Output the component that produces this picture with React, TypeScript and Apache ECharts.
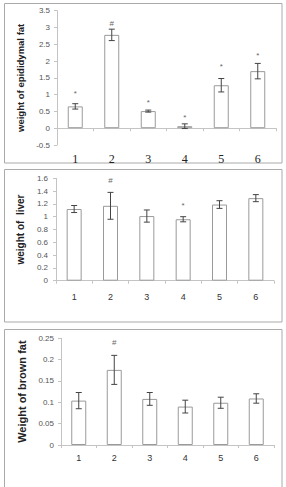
import React, { useEffect, useRef } from "react";
import * as echarts from "echarts";

const categories = ["1", "2", "3", "4", "5", "6"];

const epiMean = [0.65, 2.78, 0.51, 0.06, 1.28, 1.7];
const epiErr = [0.08, 0.17, 0.03, 0.07, 0.2, 0.23];
const epiMark = ["*", "#", "*", "*", "*", "*"];
const epiMarkY = [1.04, 3.11, 0.77, 0.33, 1.83, 2.16];

const liverMean = [1.12, 1.17, 1.01, 0.96, 1.19, 1.29];
const liverErr = [0.055, 0.21, 0.095, 0.04, 0.06, 0.055];
const liverMark = ["", "#", "", "*", "", ""];
const liverMarkY = [0, 1.56, 0, 1.17, 0, 0];

const brownMean = [0.104, 0.176, 0.108, 0.09, 0.099, 0.109];
const brownErr = [0.019, 0.034, 0.015, 0.015, 0.013, 0.011];
const brownMark = ["", "#", "", "", "", ""];
const brownMarkY = [0, 0.24, 0, 0, 0, 0];

const yTicks1 = { min: -0.5, max: 3.5, interval: 0.5 };
const yTicks2 = { min: 0, max: 1.6, interval: 0.2 };
const yTicks3 = { min: 0, max: 0.25, interval: 0.05 };

const AXIS_COLOR = "#c4c4c4";
const LABEL_COLOR = "#555";

function errorSeries(idx: number, mean: number[], err: number[]) {
  return {
    type: "custom",
    xAxisIndex: idx,
    yAxisIndex: idx,
    z: 5,
    data: mean.map((m, i) => [i, m, err[i]]),
    encode: { x: 0, y: 1 },
    renderItem: (params: any, api: any) => {
      const x = api.value(0);
      const m = api.value(1);
      const e = api.value(2);
      const top = api.coord([x, m + e]);
      const bot = api.coord([x, m - e]);
      const w = 3;
      const st = { stroke: "#444", lineWidth: 1 };
      return {
        type: "group",
        children: [
          { type: "line", shape: { x1: top[0], y1: top[1], x2: bot[0], y2: bot[1] }, style: st },
          { type: "line", shape: { x1: top[0] - w, y1: top[1], x2: top[0] + w, y2: top[1] }, style: st },
          { type: "line", shape: { x1: bot[0] - w, y1: bot[1], x2: bot[0] + w, y2: bot[1] }, style: st },
        ],
      };
    },
  };
}

function markSeries(idx: number, marks: string[], ys: number[]) {
  const items: { i: number; y: number; t: string }[] = [];
  marks.forEach((t, i) => {
    if (t) items.push({ i, y: ys[i], t });
  });
  return {
    type: "custom",
    xAxisIndex: idx,
    yAxisIndex: idx,
    z: 6,
    data: items.map((d) => [d.i, d.y]),
    encode: { x: 0, y: 1 },
    renderItem: (params: any, api: any) => {
      const p = api.coord([api.value(0), api.value(1)]);
      const t = items[params.dataIndex].t;
      return {
        type: "text",
        x: p[0],
        y: p[1],
        style: {
          text: t,
          fill: "#666",
          fontSize: 8,
          fontFamily: "Liberation Sans",
          align: "center",
          verticalAlign: "middle",
        },
      };
    },
  };
}

function barSeries(idx: number, mean: number[]) {
  return {
    type: "bar",
    xAxisIndex: idx,
    yAxisIndex: idx,
    barWidth: 15,
    data: mean,
    itemStyle: { color: "#fff", borderColor: "#9a9a9a", borderWidth: 1 },
  };
}

function xAxis(idx: number, fontSize: number, margin: number, serif: boolean) {
  return {
    type: "category",
    gridIndex: idx,
    data: categories,
    axisLine: { onZero: true, lineStyle: { color: AXIS_COLOR } },
    axisTick: { show: true, length: 3, lineStyle: { color: AXIS_COLOR } },
    axisLabel: {
      color: serif ? "#222" : "#333",
      fontSize,
      margin,
      fontFamily: serif ? "Liberation Serif" : "Liberation Sans",
    },
    splitLine: { show: false },
  };
}

function yAxis(idx: number, ticks: any, name: string, nameSize: number, nameGap: number, margin: number) {
  return {
    type: "value",
    gridIndex: idx,
    min: ticks.min,
    max: ticks.max,
    interval: ticks.interval,
    name,
    nameLocation: "middle",
    nameGap,
    nameTextStyle: { fontSize: nameSize, fontWeight: "bold", color: "#222", fontFamily: "Liberation Sans" },
    axisLine: { show: true, lineStyle: { color: AXIS_COLOR } },
    axisTick: { show: true, length: 3, lineStyle: { color: AXIS_COLOR } },
    axisLabel: { color: LABEL_COLOR, fontSize: 8, margin, fontFamily: "Liberation Sans" },
    splitLine: { show: false },
  };
}

export default function App() {
  const ref = useRef<HTMLDivElement>(null);
  useEffect(() => {
    if (!ref.current) return;
    const chart = echarts.init(ref.current, undefined, { renderer: "svg" });
    chart.setOption({
      animation: false,
      backgroundColor: "#fff",
      grid: [
        { left: 57, right: 10, top: 10.7, height: 134.3 },
        { left: 56, right: 12, top: 178.3, height: 102.4 },
        { left: 61, right: 12, top: 338.3, height: 106.7 },
      ],
      xAxis: [xAxis(0, 12, 8, true), xAxis(1, 9, 12, false), xAxis(2, 9, 8, false)],
      yAxis: [
        yAxis(0, yTicks1, "weight of epididymal fat", 9.5, 27, 7),
        yAxis(1, yTicks2, "weight of  liver", 10, 26, 8),
        yAxis(2, yTicks3, "Weight of brown fat", 11, 29, 7),
      ],
      graphic: [
        { type: "rect", shape: { x: 4.5, y: 3.5, width: 277.5, height: 159.5 }, style: { fill: "none", stroke: "#aaa", lineWidth: 1 } },
        { type: "rect", shape: { x: 4.5, y: 169.5, width: 277.5, height: 152.5 }, style: { fill: "none", stroke: "#aaa", lineWidth: 1 } },
        { type: "rect", shape: { x: 4.5, y: 329.5, width: 277.5, height: 170 }, style: { fill: "none", stroke: "#aaa", lineWidth: 1 } },
      ],
      series: [
        barSeries(0, epiMean),
        errorSeries(0, epiMean, epiErr),
        markSeries(0, epiMark, epiMarkY),
        barSeries(1, liverMean),
        errorSeries(1, liverMean, liverErr),
        markSeries(1, liverMark, liverMarkY),
        barSeries(2, brownMean),
        errorSeries(2, brownMean, brownErr),
        markSeries(2, brownMark, brownMarkY),
      ],
    });
    return () => chart.dispose();
  }, []);
  return <div ref={ref} style={{ position: "fixed", left: 0, top: 0, width: 286, height: 487 }} />;
}
